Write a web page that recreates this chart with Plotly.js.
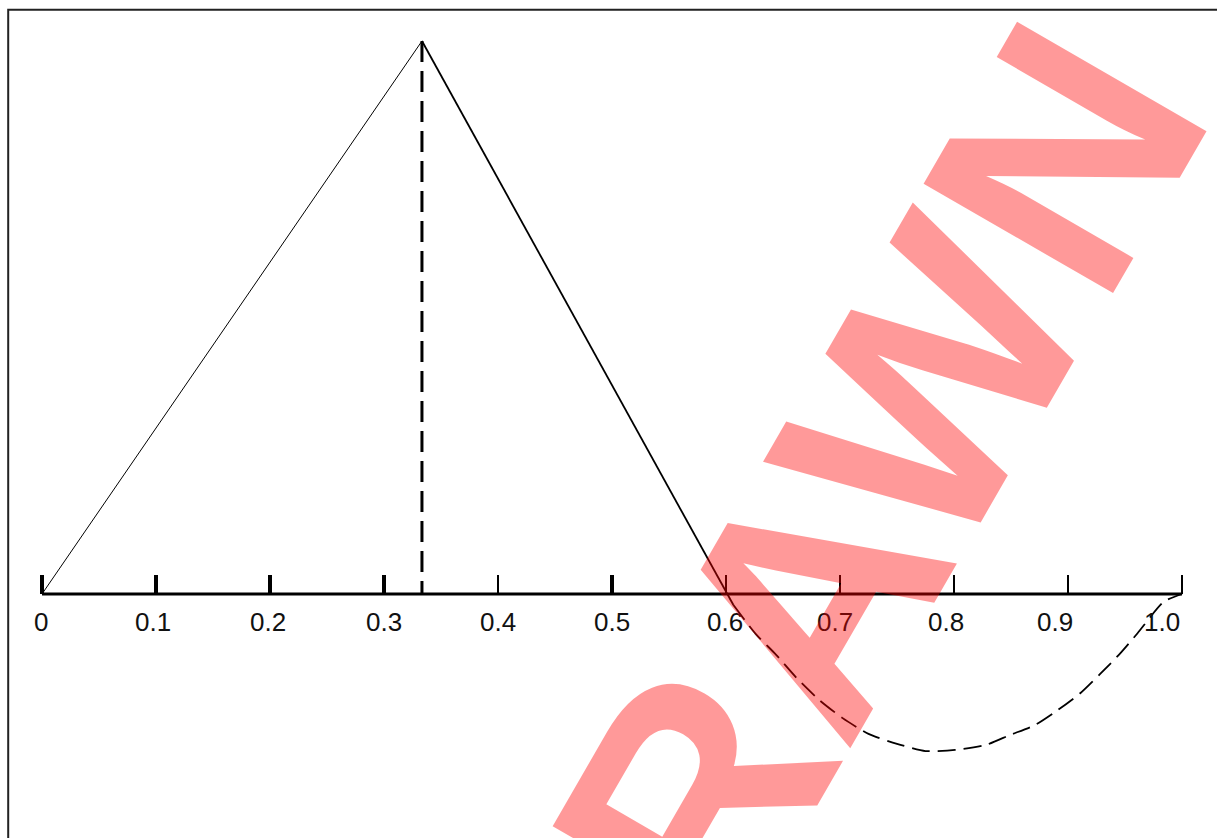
<!DOCTYPE html>
<html>
<head>
<meta charset="utf-8">
<script src="https://cdn.plot.ly/plotly-3.0.1.min.js"></script>
<style>html,body{margin:0;padding:0;background:#fff;}#chart{width:1217px;height:838px;}</style>
</head>
<body>
<div id="chart"></div>
<script>
// ---- data ----
const tickVals = [0, 0.1, 0.2, 0.3, 0.4, 0.5, 0.6, 0.7, 0.8, 0.9, 1.0];
const tickText = ['0', '0.1', '0.2', '0.3', '0.4', '0.5', '0.6', '0.7', '0.8', '0.9', '1.0'];

const riseX = [0, 0.3333];
const riseY = [0, 1];
const fallX = [0.3333, 0.6065];
const fallY = [1, -0.02];
const peakX = [0.3333, 0.3333];
const peakY = [1, 0];
const tailX = [0.6065, 0.626, 0.644, 0.662, 0.682, 0.702, 0.725, 0.750, 0.775, 0.801, 0.828, 0.849, 0.871, 0.891, 0.911, 0.928, 0.946, 0.961, 0.984, 1.0];
const tailY = [-0.02, -0.072, -0.110, -0.152, -0.192, -0.224, -0.253, -0.271, -0.284, -0.282, -0.273, -0.255, -0.237, -0.210, -0.179, -0.145, -0.107, -0.071, -0.014, 0];

const watermark = 'WITHDRAWN';

// ---- styles ----
const heavy = [true, true, true, true, false, true, false, false, false, false, false];
const labelShift = [-1, -3, -2, 0, 0, 0, -1, -5, -8, -13, -20];
const FONT = 'Liberation Sans, Arial, Helvetica, sans-serif';

const thickTicks = tickVals.filter((v, i) => heavy[i]);
const thinTicks = tickVals.filter((v, i) => !heavy[i]);

const traces = [
  {x: riseX, y: riseY, type: 'scatter', mode: 'lines', line: {color: '#000', width: 1}, hoverinfo: 'skip'},
  {x: fallX, y: fallY, type: 'scatter', mode: 'lines', line: {color: '#000', width: 1.8}, hoverinfo: 'skip'},
  {x: peakX, y: peakY, type: 'scatter', mode: 'lines', line: {color: '#000', width: 3, dash: '21px,9px'}, hoverinfo: 'skip'},
  {x: tailX, y: tailY, type: 'scatter', mode: 'lines', line: {color: '#000', width: 1.8, dash: '18px,8px', shape: 'spline', smoothing: 0.6}, hoverinfo: 'skip'},
  {x: [tickVals[0], tickVals[tickVals.length - 1]], y: [0, 0], xaxis: 'x2', type: 'scatter', mode: 'lines', line: {color: '#000', width: 3}, hoverinfo: 'skip'}
];

const axisPos = 1 - 594 / 838;
const xRange = [-42 / 1140, (1217 - 42) / 1140];
const yRange = [(594 - 838) / 553, 594 / 553];

const annotations = tickVals.map((v, i) => ({
  x: v, y: 0, xref: 'x', yref: 'y', text: tickText[i], showarrow: false,
  xanchor: 'center', yanchor: 'middle', xshift: labelShift[i], yshift: -28,
  font: {family: FONT, size: 26, color: '#111'}
}));
annotations.push({
  x: 617.8 / 1217, y: 1 - 929.1 / 838, xref: 'paper', yref: 'paper', text: watermark,
  showarrow: false, xanchor: 'center', yanchor: 'middle', textangle: -60,
  font: {family: FONT, size: 318, weight: 'bold', color: 'rgba(255,0,0,0.4)'}
});

const layout = {
  width: 1217, height: 838,
  margin: {l: 0, r: 0, t: 0, b: 0, pad: 0},
  paper_bgcolor: '#fff', plot_bgcolor: '#fff',
  showlegend: false,
  xaxis: {range: xRange, anchor: 'free', position: axisPos, showgrid: false, zeroline: false, showline: false,
    ticks: 'inside', ticklen: 19, tickwidth: 4, tickcolor: '#000', tickmode: 'array', tickvals: thickTicks,
    showticklabels: false, fixedrange: true},
  xaxis2: {overlaying: 'x', matches: 'x', range: xRange, anchor: 'free', position: axisPos, showgrid: false, zeroline: false, showline: false,
    ticks: 'inside', ticklen: 19, tickwidth: 2, tickcolor: '#000', tickmode: 'array', tickvals: thinTicks,
    showticklabels: false, fixedrange: true},
  yaxis: {range: yRange, visible: false, showgrid: false, zeroline: false, fixedrange: true},
  shapes: [{type: 'rect', xref: 'paper', yref: 'paper', x0: 8.2 / 1217, x1: 1.2, y0: -0.2, y1: 1 - 9.8 / 838,
    line: {color: '#222', width: 2}, fillcolor: 'rgba(0,0,0,0)', layer: 'below'}],
  annotations: annotations
};

Plotly.newPlot('chart', traces, layout, {staticPlot: true, displayModeBar: false});
</script>
</body>
</html>
